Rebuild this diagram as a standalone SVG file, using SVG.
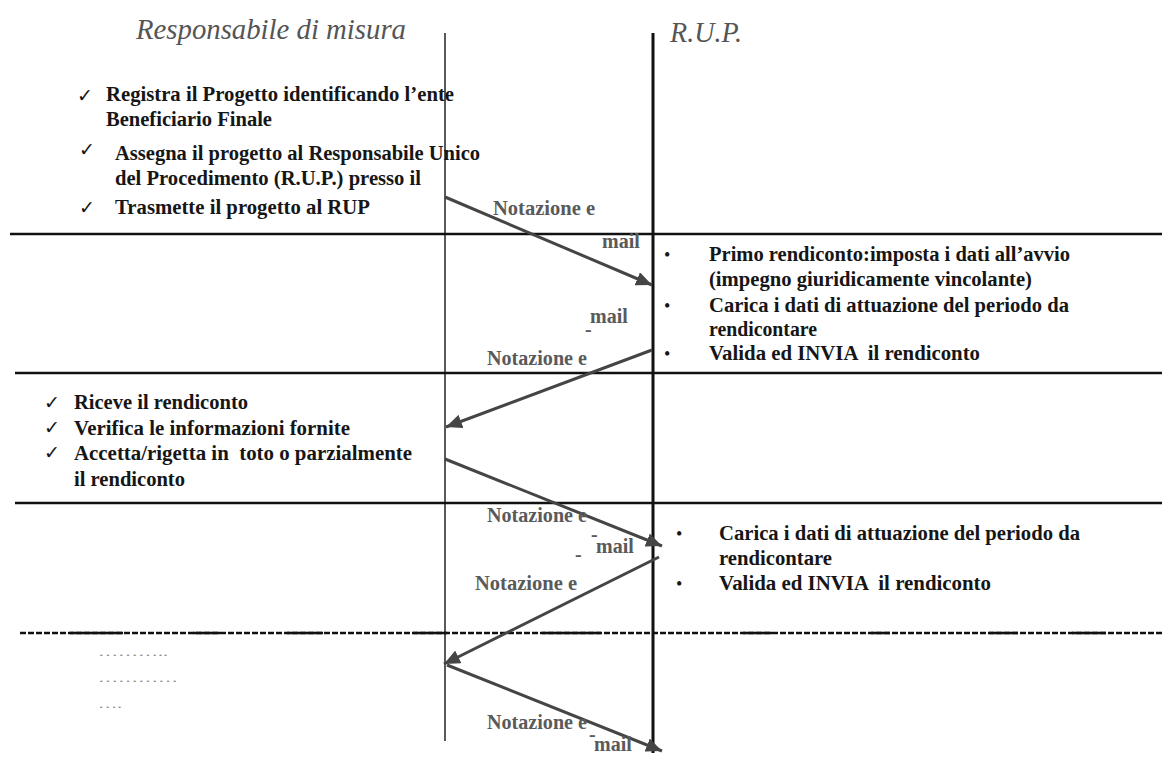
<svg xmlns="http://www.w3.org/2000/svg" width="1162" height="757" viewBox="0 0 1162 757">
<style>
.t{font-family:"Liberation Serif","Times New Roman",serif;font-weight:bold;font-size:20px;fill:#161616;white-space:pre}
.g{font-family:"Liberation Serif","Times New Roman",serif;font-weight:bold;font-size:20px;fill:#5a5a5a;white-space:pre}
.h{font-family:"Liberation Serif","Times New Roman",serif;font-style:italic;font-size:29px;fill:#555}
.ck{font-family:"DejaVu Sans",sans-serif;font-size:19px;fill:#161616}
.bu{font-family:"Liberation Serif",serif;font-size:18px;fill:#161616}
.dots{font-family:"Liberation Serif",serif;font-size:12px;fill:#8a8a8a}
.sep{stroke:#111;stroke-width:2.5}
.arr{stroke:#454545;stroke-width:3;fill:none;marker-end:url(#ah)}
</style>
<defs>
<marker id="ah" markerUnits="userSpaceOnUse" markerWidth="18" markerHeight="14" refX="16" refY="7" orient="auto">
<path d="M0,0 L16,7 L0,14 Z" fill="#454545"/>
</marker>
</defs>
<rect width="1162" height="757" fill="#fff"/>

<g id="lanes">
<line x1="445" y1="33" x2="445" y2="741" stroke="#222" stroke-width="1.5"/>
<line x1="653" y1="33" x2="653" y2="753" stroke="#111" stroke-width="3"/>
<line class="sep" x1="10" y1="234" x2="1162" y2="234"/>
<line class="sep" x1="15" y1="373" x2="1162" y2="373"/>
<line class="sep" x1="15" y1="503" x2="1162" y2="503"/>
<line x1="20" y1="633" x2="1162" y2="633" stroke="#111" stroke-width="2.5" stroke-dasharray="6 2"/>
<g stroke="#111" stroke-width="2.5">
<line x1="70" y1="633" x2="123" y2="633"/>
<line x1="193" y1="633" x2="220" y2="633"/>
<line x1="287" y1="633" x2="323" y2="633"/>
<line x1="413" y1="633" x2="447" y2="633"/>
<line x1="542" y1="633" x2="601" y2="633"/>
<line x1="743" y1="633" x2="772" y2="633"/>
<line x1="871" y1="633" x2="890" y2="633"/>
<line x1="989" y1="633" x2="1018" y2="633"/>
<line x1="1072" y1="633" x2="1106" y2="633"/>
</g>
</g>

<g id="header-rm"><text class="h" x="136" y="39" textLength="270" lengthAdjust="spacingAndGlyphs">Responsabile di misura</text></g>
<g id="header-rup"><text class="h" x="670" y="42" textLength="72" lengthAdjust="spacingAndGlyphs">R.U.P.</text></g>

<g id="rm-step1">
<text class="ck" x="77" y="102">✓</text>
<text class="t" x="106" y="101" textLength="348" lengthAdjust="spacingAndGlyphs">Registra il Progetto identificando l’ente</text>
<text class="t" x="106" y="126" textLength="166" lengthAdjust="spacingAndGlyphs">Beneficiario Finale</text>
<text class="ck" x="79" y="156">✓</text>
<text class="t" x="115" y="160" textLength="365" lengthAdjust="spacingAndGlyphs">Assegna il progetto al Responsabile Unico</text>
<text class="t" x="115" y="185" textLength="306" lengthAdjust="spacingAndGlyphs">del Procedimento (R.U.P.) presso il</text>
<text class="ck" x="79" y="214">✓</text>
<text class="t" x="115" y="214" textLength="255" lengthAdjust="spacingAndGlyphs">Trasmette il progetto al RUP</text>
</g>

<g id="rup-step1">
<text class="bu" x="664" y="261">•</text>
<text class="t" x="709" y="261" textLength="361" lengthAdjust="spacingAndGlyphs">Primo rendiconto:imposta i dati all’avvio</text>
<text class="t" x="709" y="286" textLength="323" lengthAdjust="spacingAndGlyphs">(impegno giuridicamente vincolante)</text>
<text class="bu" x="664" y="312">•</text>
<text class="t" x="709" y="312" textLength="360" lengthAdjust="spacingAndGlyphs">Carica i dati di attuazione del periodo da</text>
<text class="t" x="709" y="336" textLength="108" lengthAdjust="spacingAndGlyphs">rendicontare</text>
<text class="bu" x="664" y="360">•</text>
<text class="t" x="709" y="360" textLength="271" lengthAdjust="spacingAndGlyphs">Valida ed INVIA  il rendiconto</text>
</g>

<g id="rm-step2">
<text class="ck" x="44" y="409">✓</text>
<text class="t" x="74" y="409" textLength="174" lengthAdjust="spacingAndGlyphs">Riceve il rendiconto</text>
<text class="ck" x="44" y="434">✓</text>
<text class="t" x="74" y="435" textLength="276" lengthAdjust="spacingAndGlyphs">Verifica le informazioni fornite</text>
<text class="ck" x="44" y="459">✓</text>
<text class="t" x="74" y="460" textLength="338" lengthAdjust="spacingAndGlyphs">Accetta/rigetta in  toto o parzialmente</text>
<text class="t" x="74" y="486" textLength="111" lengthAdjust="spacingAndGlyphs">il rendiconto</text>
</g>

<g id="rup-step2">
<text class="bu" x="676" y="540">•</text>
<text class="t" x="719" y="540" textLength="361" lengthAdjust="spacingAndGlyphs">Carica i dati di attuazione del periodo da</text>
<text class="t" x="719" y="565" textLength="113" lengthAdjust="spacingAndGlyphs">rendicontare</text>
<text class="bu" x="676" y="590">•</text>
<text class="t" x="719" y="590" textLength="272" lengthAdjust="spacingAndGlyphs">Valida ed INVIA  il rendiconto</text>
</g>

<g id="rm-step3">
<text class="dots" x="98" y="656" textLength="70" lengthAdjust="spacingAndGlyphs">………..</text>
<text class="dots" x="98" y="682" textLength="80" lengthAdjust="spacingAndGlyphs">…………</text>
<text class="dots" x="98" y="708" textLength="24" lengthAdjust="spacingAndGlyphs">….</text>
</g>

<g id="connectors">
<line class="arr" x1="445" y1="197" x2="652" y2="285"/>
<line class="arr" x1="652" y1="350" x2="446" y2="427"/>
<line class="arr" x1="445" y1="459" x2="662" y2="546"/>
<line class="arr" x1="659" y1="557" x2="444" y2="664"/>
<line class="arr" x1="447" y1="665" x2="662" y2="751"/>
</g>

<g id="labels">
<text class="g" x="493" y="215" textLength="102" lengthAdjust="spacingAndGlyphs">Notazione e</text>
<text class="g" x="602" y="248">mail</text>
<text class="g" x="590" y="323">mail</text>
<text class="g" x="585" y="336" font-size="12">-</text>
<text class="g" x="487" y="365" textLength="100" lengthAdjust="spacingAndGlyphs">Notazione e</text>
<text class="g" x="487" y="522" textLength="100" lengthAdjust="spacingAndGlyphs">Notazione e</text>
<text class="g" x="591" y="541" font-size="12">-</text>
<text class="g" x="596" y="553">mail</text>
<text class="g" x="575" y="561" font-size="12">-</text>
<text class="g" x="475" y="590" textLength="102" lengthAdjust="spacingAndGlyphs">Notazione e</text>
<text class="g" x="487" y="729" textLength="100" lengthAdjust="spacingAndGlyphs">Notazione e</text>
<text class="g" x="589" y="741" font-size="12">-</text>
<text class="g" x="594" y="751">mail</text>
</g>
</svg>
